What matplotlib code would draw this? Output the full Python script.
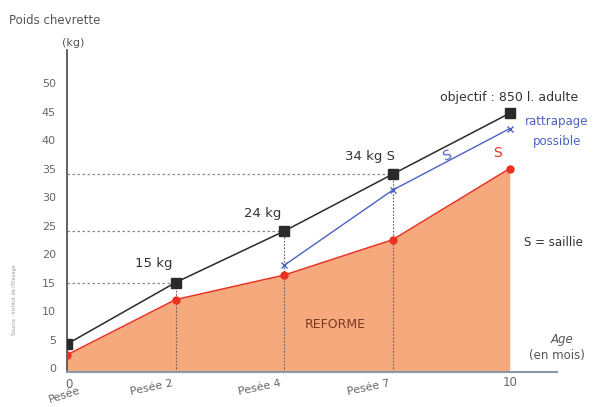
import matplotlib
matplotlib.use("Agg")
import matplotlib.pyplot as plt

plt.rcParams['font.family'] = ['DejaVu Sans']

# Data
categories = ["0", "2", "4", "7", "10"]
tick_labels = ["Pesée", "Pesée 2", "Pesée 4", "Pesée 7", "10"]
objectif = [4.2, 15, 24, 34, 44.7]          # black squares
reel = [2.3, 12, 16.3, 22.5, 35]              # red dots / orange area
rattrapage_idx = [2, 3, 4]
rattrapage = [18, 31.2, 42]                   # blue crosses
y_ticks = [0, 5, 10, 15, 20, 25, 30, 35, 40, 45, 50]

# layout: horizontal position of each category on the axis
x_pos = [0, 1, 2, 3, 4.08]

W, H = 597, 407
fig = plt.figure(figsize=(W / 100, H / 100), dpi=100)
ax = fig.add_axes([67 / W, 1 - 372 / H, 490 / W, 322 / H])
ax.set_xlim(0, 4.516)
ax.set_ylim(-0.7, 55.8)

ax.fill_between(x_pos, -0.7, reel, color="#f5a97c", lw=0, zorder=1)

# guide lines
for i in [1, 2, 3]:
    ax.plot([0, x_pos[i]], [objectif[i], objectif[i]], color="#8a8a8a", lw=0.9,
            ls=(0, (2, 2)), zorder=2)
    ax.plot([x_pos[i], x_pos[i]], [-0.7, objectif[i]], color="#6a5a55", lw=0.8,
            ls=(0, (1.5, 1.5)), zorder=2)

ax.plot(x_pos, reel, color="#e8321f", lw=1.1, marker="o", ms=5, zorder=3)
ax.plot([x_pos[i] for i in rattrapage_idx], rattrapage, color="#4b62c4", lw=1.0,
        marker="x", ms=4, mew=1.0, zorder=3)
ax.plot(x_pos, objectif, color="#2a2a2a", lw=1.1, marker="s", ms=6.5, zorder=4)

for sp in ["top", "right"]:
    ax.spines[sp].set_visible(False)
ax.spines["left"].set_color("#555555")
ax.spines["left"].set_linewidth(1.3)
ax.spines["bottom"].set_color("#8a98a8")
ax.spines["bottom"].set_linewidth(1.5)

ax.set_yticks(y_ticks)
ax.set_yticklabels([str(v) for v in y_ticks], color="#666666", fontsize=8)
ax.tick_params(axis="y", length=0, pad=8)
ax.set_xticks([])

lab_kw = dict(textcoords="offset pixels", ha="center", va="center",
              color="#666666")
# x labels
ax.annotate(categories[0], xy=(0, 0), xycoords=("data", "axes fraction"),
            xytext=(2, -12), fontsize=8.5, **lab_kw)
ax.annotate(tick_labels[0], xy=(0, 0), xycoords=("data", "axes fraction"),
            xytext=(-2, -23), fontsize=8, rotation=18, **lab_kw)
for i in [1, 2, 3]:
    ax.annotate(tick_labels[i], xy=(x_pos[i], 0), xycoords=("data", "axes fraction"),
                xytext=(-24, -16), fontsize=8, rotation=12, **lab_kw)
ax.annotate(tick_labels[4], xy=(x_pos[4], 0), xycoords=("data", "axes fraction"),
            xytext=(0, -11), fontsize=8.5, **lab_kw)

# value labels
offs = {1: (-22, 19), 2: (-21, 18), 3: (-23, 18)}
for i, (dx, dy) in offs.items():
    lab = f"{objectif[i]:g} kg" + (" S" if i == 3 else "")
    ax.annotate(lab, xy=(x_pos[i], objectif[i]), xytext=(dx, dy),
                textcoords="offset pixels", ha="center", va="center",
                fontsize=9.5, color="#333333")

def ftext(px, py, s, **kw):
    fig.text(px / W, 1 - py / H, s, **kw)

ftext(9, 20, "Poids chevrette", ha="left", va="center", fontsize=8.5, color="#555555")
ftext(73, 43, "(kg)", ha="center", va="center", fontsize=8, color="#555555")
ftext(509, 97, "objectif : 850 l. adulte", ha="center", va="center", fontsize=9, color="#333333")
ftext(557, 121, "rattrapage", ha="center", va="center", fontsize=8.5, color="#4b62c4")
ftext(557, 141, "possible", ha="center", va="center", fontsize=8.5, color="#4b62c4")
ftext(447, 156, "S", ha="center", va="center", fontsize=10, color="#4b62c4", rotation=20)
ftext(497, 153, "S", ha="center", va="center", fontsize=10, color="#e8321f")
ftext(553, 243, "S = saillie", ha="center", va="center", fontsize=8.5, color="#333333")
ftext(335, 324, "REFORME", ha="center", va="center", fontsize=9, color="#7a3a22")
ftext(562, 340, "Age", ha="center", va="center", fontsize=8.5, color="#555555", style="italic")
ftext(557, 356, "(en mois)", ha="center", va="center", fontsize=8.5, color="#555555")
ftext(15, 300, "Source : Institut de l'Elevage", ha="center", va="center",
      fontsize=3.5, color="#999999", rotation=90)

fig.savefig("out.png", dpi=100)
